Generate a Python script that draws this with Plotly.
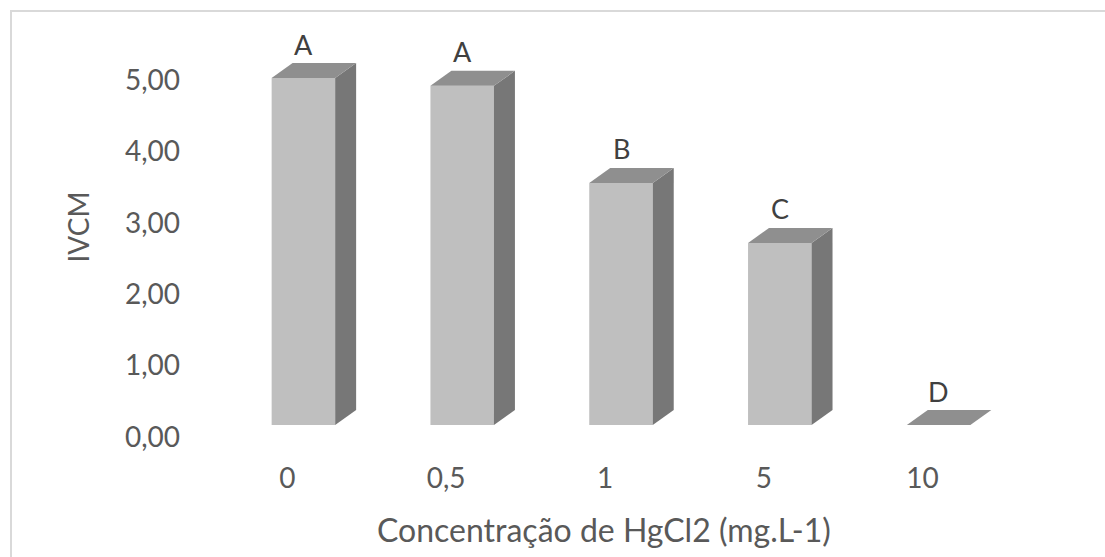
import plotly.graph_objects as go

# IVCM by HgCl2 concentration, with significance letters
categories = ["0", "0,5", "1", "5", "10"]
ivcm = [4.86, 4.75, 3.39, 2.55, 0.0]
letters = ["A", "A", "B", "C", "D"]
y_ticks = [0, 1, 2, 3, 4, 5]

# pseudo-3D look: depth offset of the box faces (in axis units)
BAR_W = 0.40
DEPTH_X = 21 / 159
DEPTH_Y = 15 / 71.4

FRONT = "#bfbfbf"
TOP = "#8f8f8f"
SIDE = "#777777"
TEXT = "#595959"
FONT = "Lato"

xs = list(range(len(categories)))

fig = go.Figure()

# front faces
fig.add_trace(go.Bar(
    x=xs, y=ivcm, width=BAR_W,
    marker=dict(color=FRONT, line=dict(width=0)),
    hoverinfo="skip", showlegend=False,
))

# side and top faces
for x, v in zip(xs, ivcm):
    xl, xr = x - BAR_W / 2, x + BAR_W / 2
    if v > 0:
        fig.add_trace(go.Scatter(
            x=[xr, xr + DEPTH_X, xr + DEPTH_X, xr, xr],
            y=[0, DEPTH_Y, v + DEPTH_Y, v, 0],
            mode="lines", fill="toself", fillcolor=SIDE,
            line=dict(width=0, color=SIDE),
            hoverinfo="skip", showlegend=False,
        ))
    fig.add_trace(go.Scatter(
        x=[xl, xr, xr + DEPTH_X, xl + DEPTH_X, xl],
        y=[v, v, v + DEPTH_Y, v + DEPTH_Y, v],
        mode="lines", fill="toself", fillcolor=TOP,
        line=dict(width=0, color=TOP),
        hoverinfo="skip", showlegend=False,
    ))

# significance letters above each bar
for x, v, t in zip(xs, ivcm, letters):
    fig.add_annotation(
        x=x, y=v + DEPTH_Y, text=t, showarrow=False,
        xanchor="center", yanchor="middle", yshift=19,
        font=dict(family=FONT, size=27, color="#404040"),
    )

# y-axis title
fig.add_annotation(
    xref="paper", yref="paper", x=0, y=0.5, xshift=-147,
    text="IVCM", textangle=-90, showarrow=False,
    xanchor="center", yanchor="middle",
    font=dict(family=FONT, size=28, color=TEXT),
)

# x-axis title
fig.add_annotation(
    xref="paper", yref="paper", x=0.5, y=0, xshift=-17, yshift=-104,
    text="Concentração de HgCl2 (mg.L-1)", showarrow=False,
    xanchor="center", yanchor="middle",
    font=dict(family=FONT, size=32, color=TEXT),
)

# chart border
fig.add_shape(
    type="rect", xref="paper", yref="paper",
    xsizemode="pixel", ysizemode="pixel",
    xanchor=0, yanchor=1, x0=-213, x1=1000, y0=19, y1=-700,
    line=dict(color="#d9d9d9", width=2), fillcolor="rgba(0,0,0,0)",
    layer="below",
)

fig.update_layout(
    width=1105, height=557,
    margin=dict(l=223.5, r=86.5, t=30, b=132),
    paper_bgcolor="white", plot_bgcolor="white",
    separators=",.",
    font=dict(family=FONT, color=TEXT),
    xaxis=dict(
        range=[-0.5, 4.5], tickvals=xs, ticktext=categories,
        showgrid=False, zeroline=False, showline=False, ticks="",
        tickfont=dict(family=FONT, size=28, color=TEXT),
        ticklabelshift=-16, ticklabelstandoff=34,
    ),
    yaxis=dict(
        range=[0, 395 / 71.4], tickvals=y_ticks, tickformat=".2f",
        showgrid=False, zeroline=False, showline=False, ticks="",
        tickfont=dict(family=FONT, size=28, color=TEXT),
        ticklabelshift=12, ticklabelstandoff=43,
    ),
)

fig.write_html("out.html")
